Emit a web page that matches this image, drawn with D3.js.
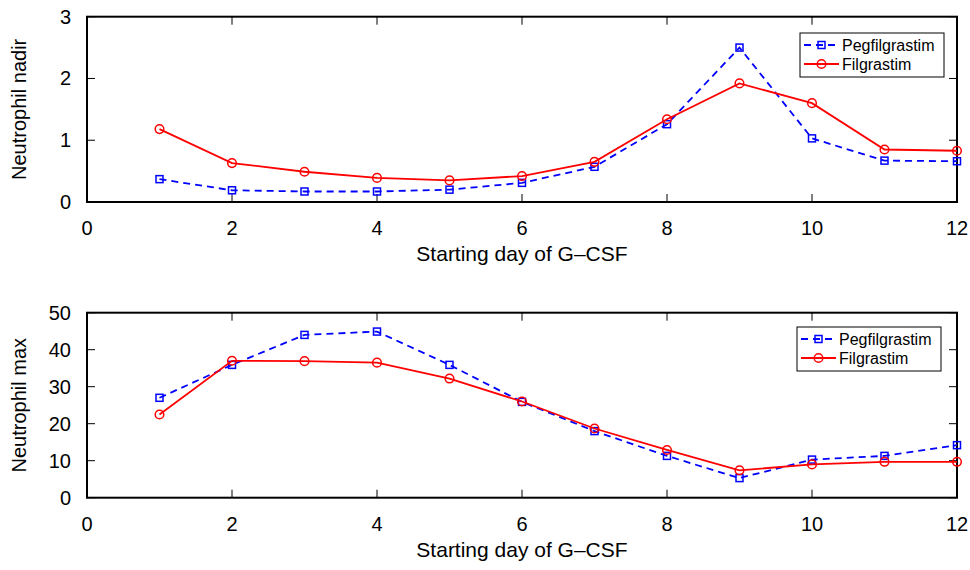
<!DOCTYPE html>
<html>
<head>
<meta charset="utf-8">
<script src="https://cdn.jsdelivr.net/npm/d3@7"></script>
<style>
  body { margin: 0; background: #fff; }
  svg { display: block; font-family: "Liberation Sans", Arial, sans-serif; }
</style>
</head>
<body>
<svg id="chart" width="970" height="570"></svg>
<script>
// Starting day of G-CSF
const days = [1, 2, 3, 4, 5, 6, 7, 8, 9, 10, 11, 12];

// Neutrophil nadir
const nadirPeg = [0.37, 0.19, 0.17, 0.17, 0.20, 0.31, 0.57, 1.26, 2.50, 1.03, 0.67, 0.66];
const nadirFil = [1.18, 0.63, 0.49, 0.39, 0.35, 0.42, 0.65, 1.34, 1.92, 1.60, 0.85, 0.83];

// Neutrophil max
const maxPeg = [27.0, 35.9, 44.0, 44.9, 35.9, 25.9, 18.0, 11.3, 5.3, 10.3, 11.3, 14.2];
const maxFil = [22.5, 37.0, 36.9, 36.5, 32.2, 26.0, 18.7, 12.9, 7.4, 9.0, 9.7, 9.7];

const xTicks = [0, 2, 4, 6, 8, 10, 12];
const nadirTicks = [0, 1, 2, 3];
const maxTicks = [0, 10, 20, 30, 40, 50];

const BLUE = '#0000ff';
const RED = '#ff0000';

const svg = d3.select('#chart');

/* ------------------------------------------------------------------ */
/*  One panel                                                          */
/* ------------------------------------------------------------------ */

function drawPanel(opts) {
  const { top, bottom, yDomain, yTicks, yLabel, peg, fil, legendTop } = opts;
  const left = 87, right = 957;

  const x = d3.scaleLinear().domain([0, 12]).range([left, right]);
  const y = d3.scaleLinear().domain(yDomain).range([bottom, top]);
  const g = svg.append('g');

  // ticks (inward, on all four sides)
  const tickLen = 8;
  xTicks.forEach(t => {
    g.append('line').attr('x1', x(t)).attr('x2', x(t))
      .attr('y1', bottom).attr('y2', bottom - tickLen)
      .attr('stroke', '#000').attr('stroke-width', 1);
    g.append('line').attr('x1', x(t)).attr('x2', x(t))
      .attr('y1', top).attr('y2', top + tickLen)
      .attr('stroke', '#000').attr('stroke-width', 1);
    g.append('text')
      .attr('x', x(t)).attr('y', bottom + 33)
      .attr('text-anchor', 'middle')
      .attr('font-size', 20)
      .text(t);
  });
  yTicks.forEach(t => {
    g.append('line').attr('x1', left).attr('x2', left + tickLen)
      .attr('y1', y(t)).attr('y2', y(t))
      .attr('stroke', '#000').attr('stroke-width', 1);
    g.append('line').attr('x1', right).attr('x2', right - tickLen)
      .attr('y1', y(t)).attr('y2', y(t))
      .attr('stroke', '#000').attr('stroke-width', 1);
    g.append('text')
      .attr('x', left - 16).attr('y', y(t) + 7)
      .attr('text-anchor', 'end')
      .attr('font-size', 20)
      .text(t);
  });

  // frame
  g.append('rect')
    .attr('x', left).attr('y', top)
    .attr('width', right - left).attr('height', bottom - top)
    .attr('fill', 'none').attr('stroke', '#000').attr('stroke-width', 2);

  // axis titles
  g.append('text')
    .attr('x', (left + right) / 2).attr('y', bottom + 59)
    .attr('text-anchor', 'middle')
    .attr('font-size', 21)
    .text('Starting day of G\u2013CSF');
  g.append('text')
    .attr('transform', `translate(26,${(top + bottom) / 2}) rotate(-90)`)
    .attr('text-anchor', 'middle')
    .attr('font-size', 20)
    .text(yLabel);

  const line = d3.line().x((d, i) => x(days[i])).y(d => y(d));

  // Pegfilgrastim
  g.append('path').datum(peg).attr('d', line)
    .attr('fill', 'none').attr('stroke', BLUE)
    .attr('stroke-width', 1.8).attr('stroke-dasharray', '7,5');
  g.selectAll(null).data(peg).enter().append('rect')
    .attr('x', (d, i) => x(days[i]) - 3.5)
    .attr('y', d => y(d) - 3.5)
    .attr('width', 7).attr('height', 7)
    .attr('fill', 'none').attr('stroke', BLUE).attr('stroke-width', 1.5);

  // Filgrastim
  g.append('path').datum(fil).attr('d', line)
    .attr('fill', 'none').attr('stroke', RED).attr('stroke-width', 1.8);
  g.selectAll(null).data(fil).enter().append('circle')
    .attr('cx', (d, i) => x(days[i]))
    .attr('cy', d => y(d))
    .attr('r', 4.3)
    .attr('fill', 'none').attr('stroke', RED).attr('stroke-width', 1.5);

  // legend
  const lx = opts.legendLeft, ly = legendTop, lw = 144, lh = 44;
  const lg = g.append('g');
  lg.append('rect').attr('x', lx).attr('y', ly).attr('width', lw).attr('height', lh)
    .attr('fill', '#fff').attr('stroke', '#000').attr('stroke-width', 1);
  const r1 = ly + 12, r2 = ly + 31;
  lg.append('line').attr('x1', lx + 4).attr('x2', lx + 39).attr('y1', r1).attr('y2', r1)
    .attr('stroke', BLUE).attr('stroke-width', 1.8).attr('stroke-dasharray', '7,5');
  lg.append('rect').attr('x', lx + 21.5 - 3.5).attr('y', r1 - 3.5).attr('width', 7).attr('height', 7)
    .attr('fill', 'none').attr('stroke', BLUE).attr('stroke-width', 1.5);
  lg.append('line').attr('x1', lx + 4).attr('x2', lx + 39).attr('y1', r2).attr('y2', r2)
    .attr('stroke', RED).attr('stroke-width', 1.8);
  lg.append('circle').attr('cx', lx + 21.5).attr('cy', r2).attr('r', 4.3)
    .attr('fill', 'none').attr('stroke', RED).attr('stroke-width', 1.5);
  lg.append('text').attr('x', lx + 42).attr('y', r1 + 6).attr('font-size', 16).text('Pegfilgrastim');
  lg.append('text').attr('x', lx + 42).attr('y', r2 + 6).attr('font-size', 16).text('Filgrastim');
}

drawPanel({
  top: 16.7, bottom: 202, yDomain: [0, 3], yTicks: nadirTicks,
  yLabel: 'Neutrophil nadir', peg: nadirPeg, fil: nadirFil,
  legendLeft: 800, legendTop: 33,
});

drawPanel({
  top: 312.7, bottom: 497.7, yDomain: [0, 50], yTicks: maxTicks,
  yLabel: 'Neutrophil max', peg: maxPeg, fil: maxFil,
  legendLeft: 797, legendTop: 327,
});
</script>
</body>
</html>
